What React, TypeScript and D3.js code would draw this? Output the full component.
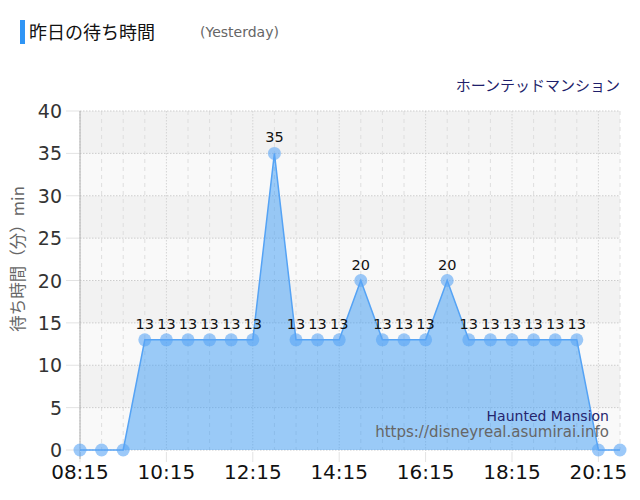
import React from "react";
import * as d3 from "d3";

const startTime = "08:15";
const stepMinutes = 30;
const waitMinutes = [0, 0, 0, 13, 13, 13, 13, 13, 13, 35, 13, 13, 13, 20, 13, 13, 13, 20, 13, 13, 13, 13, 13, 13, 0, 0];
const xTickLabels = ["08:15", "10:15", "12:15", "14:15", "16:15", "18:15", "20:15"];
const yTicks = [0, 5, 10, 15, 20, 25, 30, 35, 40];
const titleText = "昨日の待ち時間";
const subTitleText = "(Yesterday)";
const seriesName = "ホーンテッドマンション";
const creditName = "Haunted Mansion";
const creditUrl = "https://disneyreal.asumirai.info";
const yAxisTitle = "待ち時間（分）min";

const toMin = (s: string) => {
  const [h, m] = s.split(":").map(Number);
  return h * 60 + m;
};

const W = 640;
const H = 500;
const left = 80;
const right = 620;
const top = 111;
const bottom = 450;
const font = "'DejaVu Sans', 'Noto Sans CJK JP', sans-serif";
const jpFont = "'Noto Sans CJK JP', 'DejaVu Sans', sans-serif";

export default function App() {
  const t0 = toMin(startTime);
  const points = waitMinutes.map((v, i) => ({ t: t0 + i * stepMinutes, v }));
  const x = d3.scaleLinear().domain([t0, t0 + (waitMinutes.length - 1) * stepMinutes]).range([left, right]);
  const y = d3.scaleLinear().domain([0, 40]).range([bottom, top]);

  const area = d3.area<{ t: number; v: number }>().x((d) => x(d.t)).y0(y(0)).y1((d) => y(d.v));
  const line = d3.line<{ t: number; v: number }>().x((d) => x(d.t)).y((d) => y(d.v));

  const bands = yTicks.slice(0, -1).map((v, i) => ({ v0: v, v1: yTicks[i + 1], dark: i % 2 === 1 }));

  return (
    <svg width={W} height={H} style={{ position: "absolute", left: 0, top: 0, background: "#fff" }}>
      {/* Title */}
      <rect x={20} y={20} width={5} height={24} fill="#2f95f5" />
      <text x={29} y={39} fontFamily={jpFont} fontSize={18} fill="#111">{titleText}</text>
      <text x={200} y={37} fontFamily={font} fontSize={14} fill="#666">{subTitleText}</text>
      <text x={620} y={91} textAnchor="end" fontFamily={jpFont} fontSize={15} fill="#1f1f6b">{seriesName}</text>

      {/* Background bands */}
      {bands.map((b, i) => (
        <rect key={i} x={left} y={y(b.v1)} width={right - left} height={y(b.v0) - y(b.v1)} fill={b.dark ? "#f2f2f2" : "#f9f9f9"} />
      ))}

      {/* Vertical grid */}
      {points.map((p, i) => {
        const major = xTickLabels.includes(`${String(Math.floor(p.t / 60)).padStart(2, "0")}:${String(p.t % 60).padStart(2, "0")}`);
        return (
          <g key={i}>
            <line x1={x(p.t)} x2={x(p.t)} y1={top} y2={bottom} stroke={major ? "#d4d4d4" : "#dedede"} strokeDasharray={major ? "1.5,1.5" : "4,4"} />
          </g>
        );
      })}
      {xTickLabels.map((l) => (
        <line key={l} x1={x(toMin(l))} x2={x(toMin(l))} y1={bottom} y2={462} stroke="#e3e3e3" />
      ))}

      {/* Horizontal grid */}
      {yTicks.map((v) => (
        <g key={v}>
          <line x1={left} x2={right} y1={y(v)} y2={y(v)} stroke="#cccccc" strokeDasharray="1.5,1.5" />
          <line x1={66} x2={left} y1={y(v)} y2={y(v)} stroke="#e3e3e3" />
          <text x={62} y={y(v) + 7} textAnchor="end" fontFamily={font} fontSize={19} fill="#333">{v}</text>
        </g>
      ))}
      <line x1={left} x2={left} y1={top} y2={459} stroke="#b0b0b0" />

      {/* Area and line */}
      <path d={area(points) || ""} fill="rgba(60,155,245,0.5)" />
      <path d={line(points) || ""} fill="none" stroke="#55a3f5" strokeWidth={1.5} />
      <line x1={left} x2={right} y1={bottom + 1.5} y2={bottom + 1.5} stroke="#ffffff" strokeWidth={1} />

      {/* Markers */}
      {points.map((p, i) => (
        <circle key={i} cx={x(p.t)} cy={y(p.v)} r={6.5} fill="rgba(90,165,245,0.6)" />
      ))}

      {/* Data labels */}
      {points.map((p, i) =>
        p.v > 0 ? (
          <text key={i} x={x(p.t)} y={y(p.v) - 11} textAnchor="middle" fontFamily={font} fontSize={14.5} fill="#111">{p.v}</text>
        ) : null
      )}

      {/* X labels */}
      {xTickLabels.map((l) => (
        <text key={l} x={x(toMin(l))} y={479} textAnchor="middle" fontFamily={font} fontSize={20} fill="#111">{l}</text>
      ))}

      {/* Y axis title */}
      <text transform={`translate(24,259) rotate(-90)`} textAnchor="middle" fontFamily={jpFont} fontSize={16.5} fill="#666">{yAxisTitle}</text>

      {/* Credits */}
      <text x={609} y={421} textAnchor="end" fontFamily={font} fontSize={14} fill="#25256e">{creditName}</text>
      <text x={609} y={437} textAnchor="end" fontFamily={font} fontSize={15} fill="#666">{creditUrl}</text>
    </svg>
  );
}
